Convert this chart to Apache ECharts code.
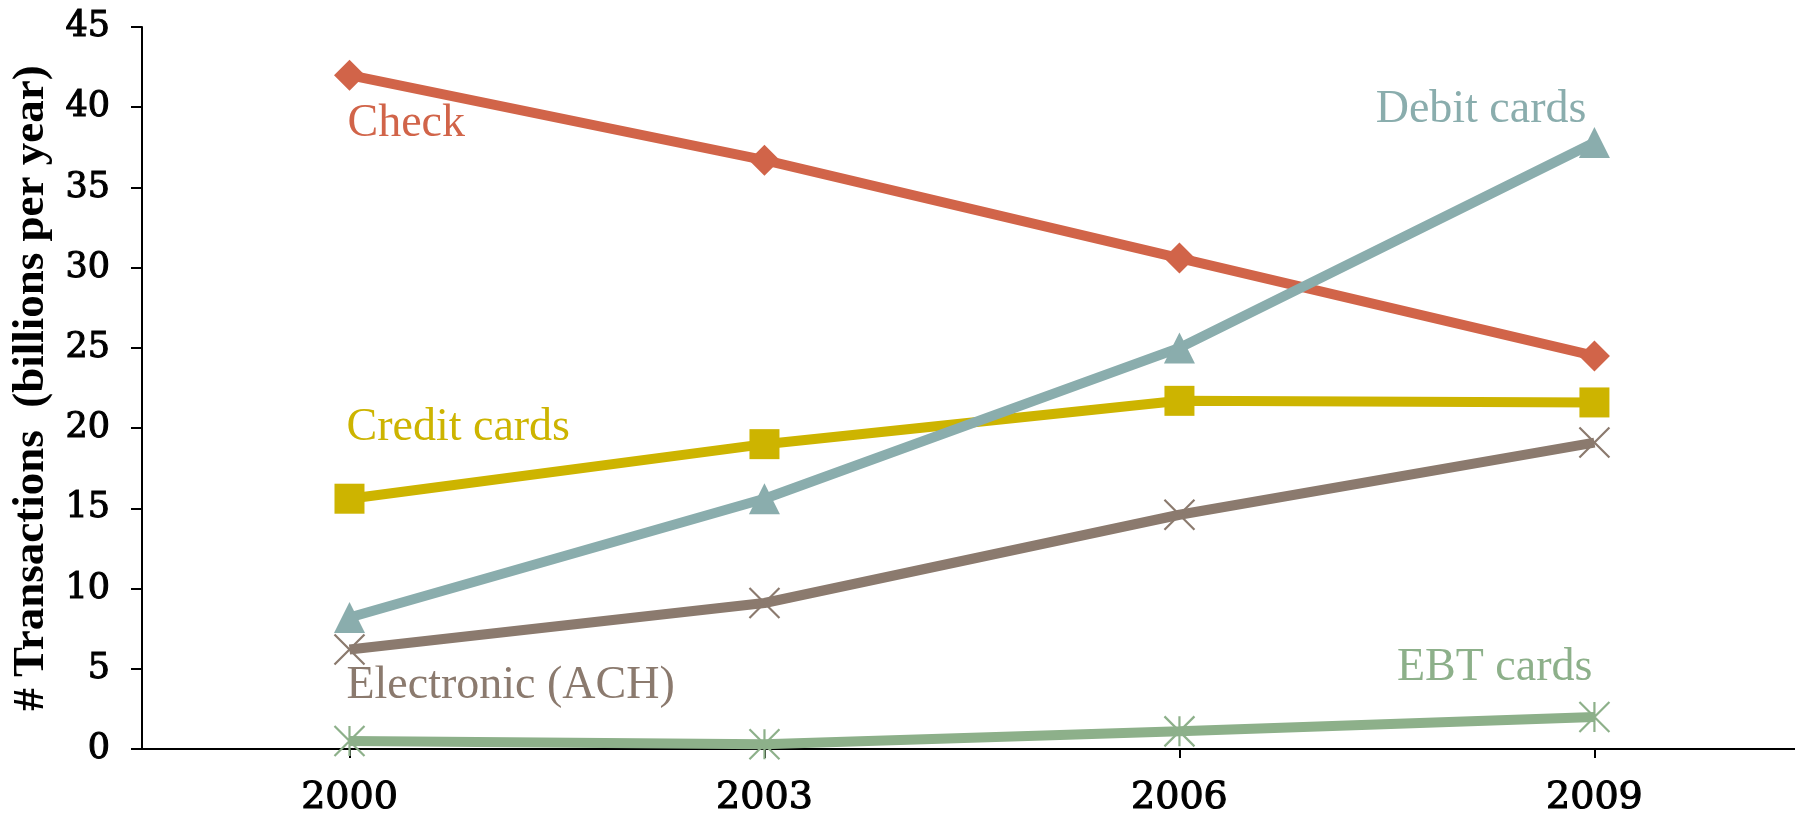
<!DOCTYPE html>
<html>
<head>
<meta charset="utf-8">
<title>Noncash payment transactions</title>
<script src="https://cdn.jsdelivr.net/npm/echarts@6/dist/echarts.min.js"></script>
<style>
  html, body { margin: 0; padding: 0; background: #ffffff; }
  #chart { width: 1795px; height: 821px; }
</style>
</head>
<body>
<div id="chart"></div>
<script>
// Survey years
const years = [2000, 2003, 2006, 2009];

// Transactions per year, in billions
const check      = [42.0, 36.7, 30.6, 24.5];
const creditCard = [15.6, 19.0, 21.7, 21.6];
const debitCard  = [8.2, 15.6, 25.0, 37.8];
const ach        = [6.2, 9.1, 14.6, 19.1];
const ebtCard    = [0.5, 0.3, 1.1, 2.0];

// Value axis ticks
const yMin = 0, yMax = 45, yStep = 5;

// Year axis extent (half a survey period of padding on the left)
const xMin = 1998.5, xMax = 2010.45;

const SERIF = '"Liberation Serif", "DejaVu Serif", serif';
const TICK_SERIF = '"DejaVu Serif", "Liberation Serif", serif';

const colors = {
  check: '#D16449',
  credit: '#CDB400',
  debit: '#8AADAD',
  ach: '#8B7A6E',
  ebt: '#8DB08A'
};

// Pairs each year with its value, labelling a single point with the series name
function buildData(values, name, color, idx, align, offset) {
  return values.map((v, i) => {
    const item = { value: [years[i], v] };
    if (i === idx) {
      item.label = {
        show: true,
        position: 'inside',
        formatter: name,
        align: align,
        verticalAlign: 'middle',
        offset: offset,
        color: color,
        fontFamily: SERIF,
        fontSize: 46
      };
    }
    return item;
  });
}

function lineSeries(name, values, color, symbol, size, strokeOnly, labelIdx, align, offset, z) {
  return {
    name: name,
    type: 'line',
    data: buildData(values, name, color, labelIdx, align, offset),
    symbol: symbol,
    symbolSize: size,
    showAllSymbol: true,
    lineStyle: { color: color, width: 10 },
    itemStyle: strokeOnly
      ? { color: 'rgba(0,0,0,0)', borderColor: color, borderWidth: 2.2 }
      : { color: color, borderWidth: 0 },
    emphasis: { disabled: true },
    z: z,
    animation: false
  };
}

const chart = echarts.init(document.getElementById('chart'), null, { renderer: 'canvas' });

chart.setOption({
  backgroundColor: '#ffffff',
  animation: false,
  grid: { left: 142, top: 27, bottom: 72, right: 0 },
  xAxis: {
    type: 'value',
    min: xMin,
    max: xMax,
    axisLine: { show: true, lineStyle: { color: '#000', width: 2 } },
    axisTick: { show: true, customValues: years, length: 9, lineStyle: { color: '#000', width: 2 } },
    axisLabel: {
      customValues: years,
      formatter: (v) => String(v),
      color: '#000', fontFamily: TICK_SERIF, fontSize: 38, margin: 30,
      textBorderColor: '#000', textBorderWidth: 1.1
    },
    splitLine: { show: false }
  },
  yAxis: {
    type: 'value',
    min: yMin,
    max: yMax,
    interval: yStep,
    name: '# Transactions  (billions per year)',
    nameLocation: 'middle',
    nameGap: 88,
    nameTextStyle: { color: '#000', fontFamily: SERIF, fontWeight: 'bold', fontSize: 45 },
    axisLine: { show: true, lineStyle: { color: '#000', width: 2 } },
    axisTick: { show: true, inside: false, length: 11, lineStyle: { color: '#000', width: 2 } },
    axisLabel: {
      color: '#000', fontFamily: TICK_SERIF, fontSize: 35, margin: 32,
      textBorderColor: '#000', textBorderWidth: 1.1
    },
    splitLine: { show: false }
  },
  series: [
    lineSeries('Check', check, colors.check, 'diamond', 31, false, 0, 'left', [-2, 49], 2),
    lineSeries('Credit cards', creditCard, colors.credit, 'rect', 30, false, 0, 'left', [-3, -71], 3),
    lineSeries('Electronic (ACH)', ach, colors.ach, 'path://M0,0L10,10M10,0L0,10', 30, true, 0, 'left', [-3, 36], 4),
    lineSeries('EBT cards', ebtCard, colors.ebt, 'path://M0,0L10,10M10,0L0,10M5,0L5,10', 30, true, 3, 'right', [-2, -49], 5),
    lineSeries('Debit cards', debitCard, colors.debit, 'triangle', 31, false, 3, 'right', [-8, -33], 6)
  ]
});
</script>
</body>
</html>
